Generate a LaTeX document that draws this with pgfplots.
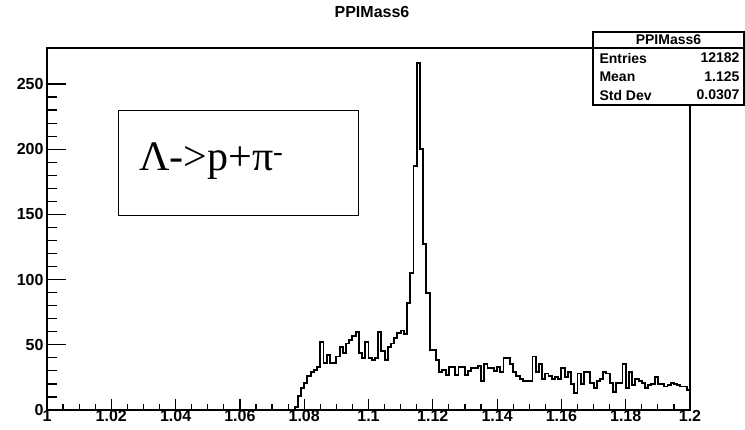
\documentclass[border=0pt]{standalone}
\usepackage{fontspec}
\setmainfont{Liberation Sans}
\newfontfamily\timesf{Liberation Serif}
\usepackage{pgfplots}
\pgfplotsset{compat=1.18}
\usepackage{pgfplotstable}

\pgfplotstableread{
x y
1.000 0
1.077 2
1.078 11
1.079 17
1.080 21
1.081 26
1.082 29
1.083 31
1.084 33
1.085 52
1.086 36
1.087 42
1.088 36
1.089 36
1.090 41
1.091 48
1.092 44
1.093 51
1.094 54
1.095 57
1.096 60
1.097 44
1.098 40
1.099 52
1.100 40
1.101 38
1.102 40
1.103 60
1.104 45
1.105 38
1.106 48
1.107 51
1.108 55
1.109 59
1.110 61
1.111 58
1.112 82
1.113 105
1.114 187
1.115 266
1.116 200
1.117 127
1.118 90
1.119 46
1.120 46
1.121 38
1.122 29
1.123 31
1.124 27
1.125 33
1.126 33
1.127 27
1.128 33
1.129 33
1.130 27
1.131 30
1.132 32
1.133 32
1.134 34
1.135 22
1.136 35
1.137 32
1.138 32
1.139 30
1.140 33
1.141 29
1.142 40
1.143 40
1.144 35
1.145 29
1.146 26
1.147 24
1.148 22
1.149 22
1.150 22
1.151 41
1.152 29
1.153 35
1.154 24
1.155 28
1.156 26
1.157 24
1.158 25
1.159 24
1.160 32
1.161 25
1.162 29
1.163 20
1.164 13
1.165 28
1.166 20
1.167 29
1.168 29
1.169 21
1.170 17
1.171 22
1.172 24
1.173 29
1.174 28
1.175 21
1.176 14
1.177 21
1.178 21
1.179 35
1.180 17
1.181 29
1.182 19
1.183 24
1.184 22
1.185 21
1.186 17
1.187 19
1.188 20
1.189 25
1.190 20
1.191 20
1.192 18
1.193 19
1.194 21
1.195 20
1.196 19
1.197 18
1.198 18
1.199 15
1.200 15
}\histdata

\begin{document}
\begin{tikzpicture}[x=1pt,y=1pt]
\useasboundingbox (0,0) rectangle (745,429);
\begin{axis}[
  at={(47pt,19pt)}, anchor=south west,
  scale only axis, width=643pt, height=362pt,
  xmin=1, xmax=1.2, ymin=0, ymax=277.6,
  xtick={1,1.02,1.04,1.06,1.08,1.1,1.12,1.14,1.16,1.18,1.2},
  minor x tick num=3,
  ytick=\empty,
  tick pos=left,
  tick align=inside,
  major tick length=11pt, minor tick length=5.5pt,
  tick style={black, line width=1.2pt},
  axis line style={line width=1.5pt},
  ticklabel style={font=\bfseries\fontsize{16}{18}\selectfont},
  xticklabel style={yshift=3pt},
  /pgf/number format/assume math mode=true,
  clip=false,
]
\addplot[const plot mark left, black, line width=1.9pt] table[x=x,y=y]{\histdata};
\end{axis}
\begin{axis}[
  at={(47pt,19pt)}, anchor=south west,
  scale only axis, width=643pt, height=362pt,
  xmin=1, xmax=1.2, ymin=0, ymax=277.6,
  hide x axis,
  ytick={0,50,100,150,200,250},
  minor y tick num=4,
  tick pos=left,
  tick align=inside,
  major tick length=19pt, minor tick length=9.5pt,
  tick style={black, line width=1.2pt},
  axis line style={line width=1.5pt},
  ticklabel style={font=\bfseries\fontsize{16}{18}\selectfont},
  /pgf/number format/assume math mode=true,
]
\addplot[draw=none] coordinates {(1,0)};
\end{axis}
% title
\node at (372,417) {\bfseries\fontsize{16}{18}\selectfont PPIMass6};
% stats box
\draw[line width=1.2pt, fill=white] (593,324) rectangle (744,397);
\draw[line width=1.2pt] (593,381) -- (744,381);
\node at (668.5,389) {\bfseries\fontsize{14}{16}\selectfont PPIMass6};
\node[anchor=west] at (596,371) {\bfseries\fontsize{14}{16}\selectfont Entries};
\node[anchor=east] at (743,371) {\bfseries\fontsize{14}{16}\selectfont 12182};
\node[anchor=west] at (596,352) {\bfseries\fontsize{14}{16}\selectfont Mean};
\node[anchor=east] at (743,352) {\bfseries\fontsize{14}{16}\selectfont 1.125};
\node[anchor=west] at (596,334) {\bfseries\fontsize{14}{16}\selectfont Std Dev};
\node[anchor=east] at (743,334) {\bfseries\fontsize{14}{16}\selectfont 0.0307};
% text box
\draw[line width=0.7pt] (118,214) rectangle (358,319);
\node[anchor=base west, inner sep=0pt] at (139,258) {\timesf\fontsize{42}{48}\selectfont Λ->p+π\textsuperscript{-}};
\end{tikzpicture}
\end{document}
